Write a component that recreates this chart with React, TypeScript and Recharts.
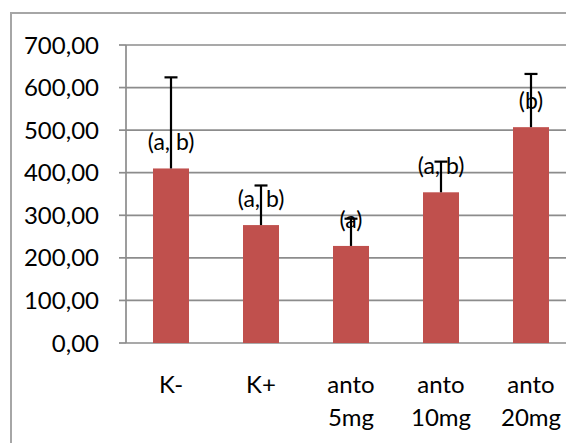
import React from 'react';
import { ComposedChart, Bar, XAxis, YAxis, CartesianGrid, LabelList } from 'recharts';

const categories = ['K-', 'K+', 'anto 5mg', 'anto 10mg', 'anto 20mg'];
const means = [410, 277, 228, 354, 507];
const errPlus = [214, 93, 64, 72, 125];
const groups = ['(a, b)', '(a, b)', '(a)', '(a, b)', '(b)'];
const yTicks = [0, 100, 200, 300, 400, 500, 600, 700];
const boundaryTicks = [0, 1, 2, 3, 4, 5];

const data = categories.map((c, i) => ({ cat: c, mean: means[i], plus: errPlus[i], group: groups[i] }));

const FONT = 'Lato, "Open Sans", sans-serif';
const GRID = '#8c8c8c';

const BarWithError = (props: any) => {
  const { x, y, width, height, payload } = props;
  const unit = height / payload.mean;
  const topY = y - payload.plus * unit;
  const cx = x + width / 2;
  return (
    <g>
      <rect x={x} y={y} width={width} height={height} fill="#C0504D" />
      <line x1={cx} y1={y} x2={cx} y2={topY} stroke="#000" strokeWidth={2.2} />
      <line x1={cx - 6.5} y1={topY} x2={cx + 6.5} y2={topY} stroke="#000" strokeWidth={2.2} />
    </g>
  );
};

const renderLabel = (props: any) => {
  const { x, y, width, value } = props;
  return (
    <text x={x + width / 2} y={y - 26 + 8} textAnchor="middle" fontFamily={FONT} fontSize={23} fill="#000">
      {value}
    </text>
  );
};

const CatTick = (props: any) => {
  const { x, y, payload } = props;
  const lines = String(payload.value).split(' ');
  return (
    <text x={x} y={y} textAnchor="middle" fontFamily={FONT} fontSize={24} fill="#000">
      {lines.map((l, i) => (
        <tspan key={i} x={x} dy={i === 0 ? 50 : 33}>
          {l}
        </tspan>
      ))}
    </text>
  );
};

export default function App() {
  return (
    <div style={{ position: 'fixed', left: 0, top: 0, width: 566, height: 443, overflow: 'hidden', background: '#fff' }}>
      <div
        style={{
          position: 'absolute',
          left: 10,
          top: 12,
          width: 620,
          height: 500,
          border: '2px solid #a6a6a6',
        }}
      />
      <div style={{ position: 'absolute', left: 0, top: 0 }}>
        <ComposedChart width={600} height={443} data={data} margin={{ top: 45, right: 24, bottom: 0, left: 0 }} barCategoryGap="30%">
          <CartesianGrid vertical={false} stroke={GRID} strokeWidth={1.7} />
          <XAxis
            xAxisId={0}
            type="number"
            domain={[0, 5]}
            ticks={boundaryTicks}
            allowDataOverflow
            height={0}
            tick={false}
            tickSize={7}
            axisLine={{ stroke: GRID, strokeWidth: 1.7 }}
            tickLine={{ stroke: GRID, strokeWidth: 1.7 }}
          />
          <XAxis
            xAxisId="cat"
            dataKey="cat"
            height={100}
            axisLine={false}
            tickLine={false}
            tickSize={0}
            tickMargin={0}
            interval={0}
            tick={<CatTick />}
          />
          <YAxis
            width={126}
            domain={[0, 700]}
            ticks={yTicks}
            interval={0}
            tickSize={7}
            tickMargin={20}
            tickFormatter={(v: number) => v.toFixed(2).replace('.', ',')}
            tick={{ fill: '#000', fontFamily: FONT, fontSize: 24 }}
            axisLine={{ stroke: GRID, strokeWidth: 1.7 }}
            tickLine={{ stroke: GRID, strokeWidth: 1.7 }}
          />
          <Bar xAxisId="cat" dataKey="mean" shape={<BarWithError />} isAnimationActive={false}>
            <LabelList dataKey="group" content={renderLabel} />
          </Bar>
        </ComposedChart>
      </div>
    </div>
  );
}
